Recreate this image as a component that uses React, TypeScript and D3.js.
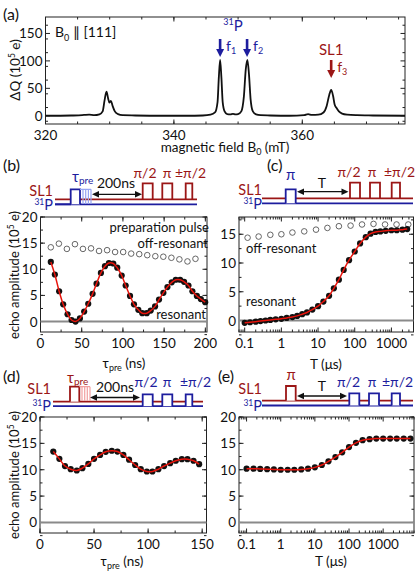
import React from 'react';
import * as d3 from 'd3';

const FONT = 'Lato, "Open Sans", sans-serif';
const RED = '#9b1616';
const BLUE = '#1d1d9e';
const FIT = '#e8140c';
const LBLUE = '#97a6f2';
const LRED = '#f2a0a0';

// (a) ESR spectrum
const specField = [320, 324, 326, 326.8, 327.6, 328.4, 328.9, 329.2, 329.5, 329.75, 329.95, 330.2, 330.45, 330.8, 331.3, 332, 334, 338, 342, 344.5, 345.7, 346.4, 346.8, 347.0, 347.2, 347.4, 347.6, 347.9, 348.3, 348.8, 349.2, 349.6, 350.0, 350.5, 350.9, 351.2, 351.45, 351.7, 351.95, 352.3, 352.8, 353.5, 355, 358, 360.3, 360.9, 361.5, 362.5, 363.3, 363.8, 364.2, 364.5, 364.8, 365.05, 365.35, 365.7, 366.2, 367, 368.5, 371, 376];
const specQ = [0, 0.5, 1.5, 2, 1, 2.5, 8, 28, 44, 32, 24, 27, 18, 8, 3, 1, 0.5, 0, 0, 0.5, 2, 6, 25, 70, 102, 70, 25, 8, 3, 2.5, 3.5, 2.5, 3, 8, 35, 85, 102, 75, 30, 8, 2.5, 1, 0.5, 0, 1, 3, 1.5, 2, 6, 18, 38, 47, 36, 20, 14, 8, 4, 2, 1, 0.5, 0];
const arrowsA = [
  { b: 347.2, label: '1', color: BLUE },
  { b: 351.4, label: '2', color: BLUE },
];

// (b) preparation pulse length, resonant
const tauB = [12.5, 17.4, 22.6, 27.5, 32.8, 37.7, 42.5, 47.8, 53, 57.9, 63.2, 68, 73.3, 78.2, 83, 88.3, 93.1, 98.5, 103.3, 108.6, 113.4, 118.7, 123.5, 128.9, 133.7, 139, 143.8, 149.1, 154, 159.2, 164.1, 169.4, 174.2, 179.5, 184.3, 189.7, 194.5, 199.8];
const echoB = [11.4, 9.0, 5.8, 3.3, 1.4, 0.3, 0, 0.6, 1.9, 3.4, 5.3, 7.25, 9.3, 10.6, 11.2, 11.1, 10.3, 8.8, 6.9, 4.9, 3.3, 2.25, 1.6, 1.6, 2.1, 2.9, 4.2, 5.5, 6.6, 7.5, 8.0, 8.0, 7.6, 6.9, 5.8, 4.9, 4.3, 3.7];
// (b) off-resonant
const tauBOff = [12.5, 22.3, 32, 41.8, 51.5, 61.3, 71, 80.8, 90.5, 100.3, 110, 119.8, 129.5, 139.3, 149, 158.8, 168.5, 178.3, 188];
const echoBOff = [14.2, 14.9, 13.9, 14.8, 13.9, 14.0, 13.5, 13.65, 13.3, 13.3, 13.0, 12.9, 12.7, 12.5, 12.4, 12.2, 11.9, 11.5, 12.0];

// (c) waiting time T, resonant
const tC = [0.1, 0.14, 0.2, 0.27, 0.37, 0.5, 0.7, 1, 1.4, 2, 2.7, 3.7, 5, 7, 10, 14, 20, 27, 37, 50, 70, 100, 140, 200, 270, 370, 500, 700, 1000, 1400, 2000, 2700];
const echoC = [-0.4, -0.3, -0.2, -0.1, 0.0, 0.1, 0.2, 0.3, 0.45, 0.6, 0.8, 1.1, 1.4, 1.9, 2.5, 3.3, 4.3, 5.6, 7.1, 8.8, 10.5, 12.0, 13.4, 14.5, 15.1, 15.4, 15.5, 15.6, 15.7, 15.7, 15.8, 15.9];
// (c) off-resonant
const tCOff = [0.12, 0.24, 0.5, 1, 2, 4.2, 8.8, 18, 37, 77, 158, 325, 670, 1380, 2880];
const echoCOff = [14.4, 14.6, 14.9, 15.0, 15.3, 15.5, 15.8, 16.1, 16.4, 16.5, 16.7, 16.8, 16.7, 16.7, 16.7];

// (d) preparation pulse on SL1
const tauD = [12.3, 17.9, 23.1, 28.4, 34, 39.2, 44.7, 50, 55.6, 60.8, 66.4, 71.6, 77.1, 82.4, 88, 93.2, 98.8, 104, 109.5, 114.8, 120.4, 125.6, 131.2, 136.4, 142, 147.2];
const echoD = [13.45, 12.06, 10.7, 10.1, 9.85, 10.3, 11.1, 12.06, 12.8, 13.4, 13.6, 13.45, 12.8, 11.9, 10.9, 10.1, 9.66, 9.66, 10.1, 10.7, 11.25, 11.7, 12.0, 12.0, 11.7, 11.05];

// (e) waiting time after SL1 pi pulse
const tE = [0.1, 0.16, 0.25, 0.4, 0.63, 1, 1.6, 2.5, 4, 6.3, 10, 16, 25, 40, 63, 100, 160, 250, 400, 630, 1000, 1600, 2500, 4000, 6300];
const echoE = [10.2, 10.2, 10.15, 10.1, 10.05, 10.0, 10.0, 10.0, 10.05, 10.2, 10.45, 10.9, 11.6, 12.4, 13.3, 14.3, 15.1, 15.6, 15.8, 15.9, 15.9, 15.9, 15.9, 15.9, 15.9];

const logMajor = [0.1, 1, 10, 100, 1000];
const logLabels = ['0.1', '1', '10', '100', '1000'];

// scales
const xA = d3.scaleLinear().domain([320, 376]).range([45.5, 405]);
const yA = d3.scaleLinear().domain([-15, 180]).range([124, 17]);
const xB = d3.scaleLinear().domain([0, 202]).range([40.5, 207]);
const yB = d3.scaleLinear().domain([-2, 20]).range([332, 217]);
const xC = d3.scaleLog().domain([0.07, 4000]).range([239, 413.5]);
const yC = d3.scaleLinear().domain([-2, 18]).range([332, 217]);
const xD = d3.scaleLinear().domain([0, 154]).range([40, 206.5]);
const yD = d3.scaleLinear().domain([-2, 20]).range([533, 417]);
const xE = d3.scaleLog().domain([0.06, 8000]).range([239, 414]);
const yE = d3.scaleLinear().domain([-2, 20]).range([533, 417]);

function Frame({ x, y, xMajor, xMinor, yMajor, yMinor, xLabels, yLabels }: any) {
  const [x0, x1] = x.range();
  const [y0, y1] = y.range();
  const inX = (v: number) => v >= x.domain()[0] && v <= x.domain()[1];
  return (
    <g stroke="#222" strokeWidth={1} fill="none">
      {xMinor.filter(inX).map((v: number, i: number) => (
        <g key={'xm' + i}>
          <line x1={x(v)} x2={x(v)} y1={y0} y2={y0 - 2.5} />
          <line x1={x(v)} x2={x(v)} y1={y1} y2={y1 + 2.5} />
        </g>
      ))}
      {xMajor.map((v: number, i: number) => (
        <g key={'xM' + i}>
          <line x1={x(v)} x2={x(v)} y1={y0} y2={y0 - 4.5} />
          <line x1={x(v)} x2={x(v)} y1={y1} y2={y1 + 4.5} />
          <text x={x(v)} y={y0 + 16} textAnchor="middle" stroke="none" fill="#111" fontSize={13.5} fontFamily={FONT}>
            {xLabels ? xLabels[i] : v}
          </text>
        </g>
      ))}
      {yMinor.map((v: number, i: number) => (
        <g key={'ym' + i}>
          <line x1={x0} x2={x0 + 2.5} y1={y(v)} y2={y(v)} />
          <line x1={x1} x2={x1 - 2.5} y1={y(v)} y2={y(v)} />
        </g>
      ))}
      {yMajor.map((v: number, i: number) => (
        <g key={'yM' + i}>
          <line x1={x0} x2={x0 + 4.5} y1={y(v)} y2={y(v)} />
          <line x1={x1} x2={x1 - 4.5} y1={y(v)} y2={y(v)} />
          <text x={x0 - 3} y={y(v) + 5} textAnchor="end" stroke="none" fill="#111" fontSize={13.5} fontFamily={FONT}>
            {yLabels ? yLabels[i] : v}
          </text>
        </g>
      ))}
      <rect x={x0} y={y1} width={x1 - x0} height={y0 - y1} />
    </g>
  );
}

function DataSet({ x, y, xs, ys, fit = true, open = false }: any) {
  const pts = xs.map((v: number, i: number) => [x(v), y(ys[i])]);
  const line = d3.line().curve(d3.curveCatmullRom.alpha(0.5));
  return (
    <g>
      {pts.map((p: number[], i: number) =>
        open ? (
          <circle key={i} cx={p[0]} cy={p[1]} r={2.8} fill="none" stroke="#555" strokeWidth={0.9} />
        ) : (
          <circle key={i} cx={p[0]} cy={p[1]} r={3.1} fill="#111" />
        )
      )}
      {fit && !open && <path d={line(pts as any) || ''} fill="none" stroke={FIT} strokeWidth={1.5} />}
    </g>
  );
}

function ZeroLine({ x, y }: any) {
  const [x0, x1] = x.range();
  return <line x1={x0} x2={x1} y1={y(0)} y2={y(0)} stroke="#8a8a8a" strokeWidth={2} />;
}

const pulse = (a: number, b: number, base: number, top: number) => `M${a},${base}V${top}H${b}V${base}`;

function DArrow({ a, b, y }: any) {
  return (
    <g fill="#111">
      <line x1={a + 4} x2={b - 4} y1={y} y2={y} stroke="#111" strokeWidth={1.3} />
      <path d={`M${a},${y}L${a + 7},${y - 3.2}L${a + 7},${y + 3.2}Z`} />
      <path d={`M${b},${y}L${b - 7},${y - 3.2}L${b - 7},${y + 3.2}Z`} />
    </g>
  );
}

function DownArrow({ x, top, tip, color }: any) {
  return (
    <g fill={color}>
      <line x1={x} x2={x} y1={top} y2={tip - 6} stroke={color} strokeWidth={2.6} />
      <path d={`M${x - 4},${tip - 8}L${x + 4},${tip - 8}L${x},${tip}Z`} />
    </g>
  );
}

function ChannelLabels({ right, sl, p }: any) {
  return (
    <g fontFamily={FONT}>
      <text x={right} y={sl} textAnchor="end" fill={RED} fontSize={14.5}>SL1</text>
      <text x={right} y={p} textAnchor="end" fill={BLUE} fontSize={14.5}>
        <tspan fontSize={8.5} dy={-5}>31</tspan>
        <tspan dy={5}>P</tspan>
      </text>
    </g>
  );
}

function PiLabels({ xs, y, color }: any) {
  const txt = ['π/2', 'π', '±π/2'];
  return (
    <g fontFamily={FONT} fontSize={14} fill={color} textAnchor="middle">
      {xs.map((v: number, i: number) => (
        <text key={i} x={v} y={y}>{txt[i]}</text>
      ))}
    </g>
  );
}

function YTitle({ cx, cy, text }: any) {
  return (
    <text transform={`translate(${cx},${cy}) rotate(-90)`} textAnchor="middle" fontFamily={FONT} fontSize={13} fill="#111">
      {text}(10<tspan fontSize={8.5} dy={-5}>5</tspan><tspan dy={5}> e)</tspan>
    </text>
  );
}

export default function App() {
  const specPts = specField.map((b, i) => [xA(b), yA(specQ[i])]);
  const specLine = d3.line().curve(d3.curveMonotoneX)(specPts as any) || '';
  const linMinor = (lo: number, hi: number, st: number) => d3.range(lo, hi + 1e-9, st);
  const logMinorC = xC.ticks().filter((v) => logMajor.indexOf(v) < 0);
  const logMinorE = xE.ticks().filter((v) => logMajor.indexOf(v) < 0);

  return (
    <svg width={416} height={573} style={{ position: 'absolute', left: 0, top: 0, background: '#fff' }} fontFamily={FONT}>
      <rect width={416} height={573} fill="#fff" />

      {/* (a) */}
      <text x={3} y={20} fontSize={16} fill="#111">(a)</text>
      <Frame x={xA} y={yA} xMajor={[320, 340, 360]} xMinor={linMinor(320, 376, 5)} yMajor={[0, 50, 100, 150]} yMinor={linMinor(-10, 180, 25)} />
      <path d={specLine} fill="none" stroke="#111" strokeWidth={1.8} />
      <text x={55} y={37} fontSize={14} fill="#111">
        B<tspan fontSize={9} dy={4}>0</tspan><tspan dy={-4}> ∥ [111]</tspan>
      </text>
      <text x={233} y={31} fontSize={15} fill={BLUE} textAnchor="middle">
        <tspan fontSize={9} dy={-6}>31</tspan><tspan dy={6}>P</tspan>
      </text>
      {arrowsA.map((a) => (
        <g key={a.label}>
          <DownArrow x={xA(a.b)} top={39} tip={57} color={a.color} />
          <text x={xA(a.b) + 6} y={51} fontSize={14} fill={a.color}>
            f<tspan fontSize={9} dy={3}>{a.label}</tspan>
          </text>
        </g>
      ))}
      <text x={xA(364.5)} y={55} fontSize={15} fill={RED} textAnchor="middle">SL1</text>
      <DownArrow x={xA(364.5)} top={60} tip={78} color={RED} />
      <text x={xA(364.5) + 6} y={72} fontSize={14} fill={RED}>
        f<tspan fontSize={9} dy={3}>3</tspan>
      </text>
      <text transform="translate(20,70) rotate(-90)" textAnchor="middle" fontSize={13.5} fill="#111">
        ΔQ (10<tspan fontSize={8.5} dy={-5}>5</tspan><tspan dy={5}> e)</tspan>
      </text>
      <text x={225} y={152} textAnchor="middle" fontSize={13.5} fill="#111">
        magnetic field B<tspan fontSize={9} dy={3}>0</tspan><tspan dy={-3}> (mT)</tspan>
      </text>

      {/* (b) */}
      <text x={3} y={171} fontSize={16} fill="#111">(b)</text>
      <g fill="none" strokeWidth={1.8}>
        <path d="M55,199.3H197" stroke={RED} />
        <path d="M55,204.3H197" stroke={BLUE} />
        <path d={pulse(70.7, 80, 204.3, 189.3)} stroke={BLUE} fill="#fff" />
        <path d="M80,189.3H91M83,189.3V204M85.7,189.3V204M88.4,189.3V204M91,189.3V204" stroke={LBLUE} strokeWidth={1.2} />
        <path d="M55,204.3H71" stroke={BLUE} />
        <path d={pulse(142.7, 152.7, 199.3, 183.3)} stroke={RED} />
        <path d={pulse(162.3, 172.3, 199.3, 183.3)} stroke={RED} />
        <path d={pulse(185.7, 192.3, 199.3, 183.3)} stroke={RED} />
      </g>
      <DArrow a={92} b={142} y={194.3} />
      <text x={116} y={188} textAnchor="middle" fontSize={14} fill="#111">200ns</text>
      <text x={72} y={182} fontSize={15} fill={BLUE}>τ<tspan fontSize={10} dy={2}>pre</tspan></text>
      <PiLabels xs={[145, 167, 190.5]} y={178} color={RED} />
      <ChannelLabels right={53} sl={196} p={210} />

      <Frame x={xB} y={yB} xMajor={[0, 50, 100, 150, 200]} xMinor={linMinor(0, 200, 25)} yMajor={[0, 5, 10, 15, 20]} yMinor={linMinor(-2.5, 20, 2.5)} />
      <ZeroLine x={xB} y={yB} />
      <DataSet x={xB} y={yB} xs={tauBOff} ys={echoBOff} open />
      <DataSet x={xB} y={yB} xs={tauB} ys={echoB} />
      <g fontSize={13} fill="#111" textAnchor="end">
        <text x={209} y={232}>preparation pulse</text>
        <text x={208} y={248}>off-resonant</text>
        <text x={206} y={319}>resonant</text>
      </g>
      <YTitle cx={19} cy={275} text="echo amplitude " />
      <text x={124} y={368} textAnchor="middle" fontSize={13.5} fill="#111">
        τ<tspan fontSize={9} dy={3}>pre</tspan><tspan dy={-3}> (ns)</tspan>
      </text>

      {/* (c) */}
      <text x={267} y={171} fontSize={16} fill="#111">(c)</text>
      <g fill="none" strokeWidth={1.8}>
        <path d="M262,198.3H413" stroke={RED} />
        <path d="M262,203.3H413" stroke={BLUE} />
        <path d={pulse(285.7, 295.7, 203.3, 189.3)} stroke={BLUE} fill="#fff" />
        <path d={pulse(350, 360, 198.3, 182.7)} stroke={RED} />
        <path d={pulse(370, 380, 198.3, 182.7)} stroke={RED} />
        <path d={pulse(391.7, 400, 198.3, 182.7)} stroke={RED} />
      </g>
      <text x={290.7} y={180} textAnchor="middle" fontSize={15} fill={BLUE}>π</text>
      <DArrow a={297} b={348.5} y={191.7} />
      <text x={322} y={188} textAnchor="middle" fontSize={14} fill="#111">T</text>
      <PiLabels xs={[349, 372, 399.5]} y={177} color={RED} />
      <ChannelLabels right={262} sl={195} p={209} />

      <Frame x={xC} y={yC} xMajor={logMajor} xMinor={logMinorC} xLabels={logLabels} yMajor={[0, 5, 10, 15]} yMinor={linMinor(-2.5, 17.5, 2.5)} />
      <ZeroLine x={xC} y={yC} />
      <DataSet x={xC} y={yC} xs={tCOff} ys={echoCOff} open />
      <DataSet x={xC} y={yC} xs={tC} ys={echoC} />
      <g fontSize={13} fill="#111">
        <text x={246} y={253}>off-resonant</text>
        <text x={246} y={306}>resonant</text>
      </g>
      <text x={326} y={369} textAnchor="middle" fontSize={13.5} fill="#111">T (μs)</text>

      {/* (d) */}
      <text x={3} y={382} fontSize={16} fill="#111">(d)</text>
      <g fill="none" strokeWidth={1.8}>
        <path d="M53,406.2H203" stroke={BLUE} />
        <path d="M53,401.7H203" stroke={RED} />
        <path d={pulse(70, 79.3, 401.7, 386.7)} stroke={RED} fill="#fff" />
        <path d="M79.3,386.7H90M82,386.7V401M84.7,386.7V401M87.3,386.7V401M90,386.7V401" stroke={LRED} strokeWidth={1.2} />
        <path d={pulse(142.7, 152.7, 406.2, 394.3)} stroke={BLUE} fill="#fff" />
        <path d={pulse(162.3, 172.3, 406.2, 394.3)} stroke={BLUE} fill="#fff" />
        <path d={pulse(185.7, 192.3, 406.2, 394.3)} stroke={BLUE} fill="#fff" />
      </g>
      <DArrow a={90} b={140} y={397.5} />
      <text x={115} y={392} textAnchor="middle" fontSize={14} fill="#111">200ns</text>
      <text x={67} y={383} fontSize={15} fill={RED}>τ<tspan fontSize={10} dy={2}>pre</tspan></text>
      <PiLabels xs={[146, 167, 195.5]} y={387} color={BLUE} />
      <ChannelLabels right={51} sl={394} p={411} />

      <Frame x={xD} y={yD} xMajor={[0, 50, 100, 150]} xMinor={linMinor(0, 150, 25)} yMajor={[0, 5, 10, 15, 20]} yMinor={linMinor(-2.5, 20, 2.5)} />
      <ZeroLine x={xD} y={yD} />
      <DataSet x={xD} y={yD} xs={tauD} ys={echoD} />
      <YTitle cx={19} cy={475} text="echo amplitude " />
      <text x={122} y={566} textAnchor="middle" fontSize={13.5} fill="#111">
        τ<tspan fontSize={9} dy={3}>pre</tspan><tspan dy={-3}> (ns)</tspan>
      </text>

      {/* (e) */}
      <text x={218} y={382} fontSize={16} fill="#111">(e)</text>
      <g fill="none" strokeWidth={1.8}>
        <path d="M262,405.5H413" stroke={BLUE} />
        <path d="M262,400.7H413" stroke={RED} />
        <path d={pulse(286, 295.7, 400.7, 386)} stroke={RED} fill="#fff" />
        <path d={pulse(349.3, 359.3, 405.5, 393.3)} stroke={BLUE} fill="#fff" />
        <path d={pulse(369, 379, 405.5, 393.3)} stroke={BLUE} fill="#fff" />
        <path d={pulse(391.7, 400, 405.5, 393.3)} stroke={BLUE} fill="#fff" />
      </g>
      <text x={291} y={380} textAnchor="middle" fontSize={15} fill={RED}>π</text>
      <DArrow a={297} b={347} y={396} />
      <text x={322} y={391} textAnchor="middle" fontSize={14} fill="#111">T</text>
      <PiLabels xs={[348.5, 372, 397.5]} y={387} color={BLUE} />
      <ChannelLabels right={262} sl={394} p={411} />

      <Frame x={xE} y={yE} xMajor={logMajor} xMinor={logMinorE} xLabels={logLabels} yMajor={[0, 5, 10, 15, 20]} yMinor={linMinor(-2.5, 20, 2.5)} />
      <ZeroLine x={xE} y={yE} />
      <DataSet x={xE} y={yE} xs={tE} ys={echoE} />
      <text x={331} y={566} textAnchor="middle" fontSize={13.5} fill="#111">T (μs)</text>
    </svg>
  );
}
